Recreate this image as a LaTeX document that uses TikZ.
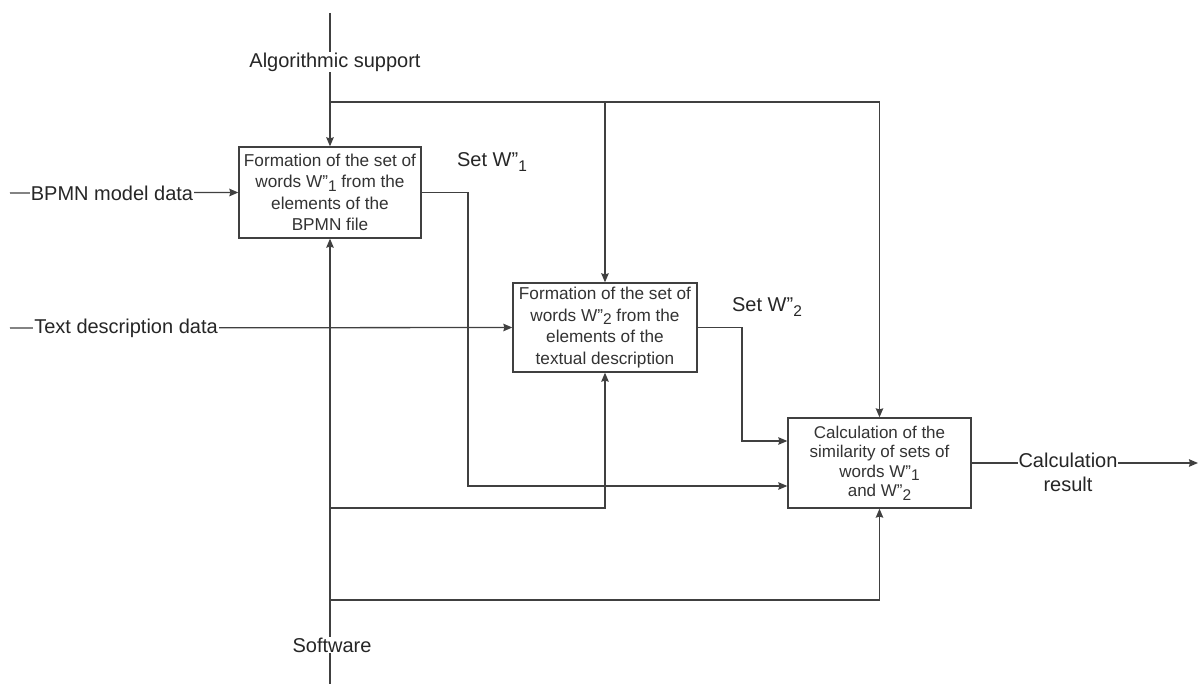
\documentclass[tikz,border=0pt]{standalone}
\usepackage{fontspec}
\setmainfont{Liberation Sans}
\usetikzlibrary{arrows.meta}
\newcommand\lowsub[1]{\raisebox{-0.4ex}{\fontsize{15.5}{15}\selectfont #1}}
\newcommand\dq{\symbol{34}}
\begin{document}
\begin{tikzpicture}[x=1pt,y=-1pt,
  line/.style={draw=black!75, line width=1.3pt},
  arr/.style={line, -{Stealth[length=9pt,width=7.5pt,inset=1pt]}},
  procbox/.style={draw=black!75, line width=1.3pt, rectangle, inner sep=0pt, fill=white,
    align=center, text=black!80, font=\fontsize{17.2}{21.5}\selectfont},
  lbl/.style={fill=white, inner sep=1pt, text=black!85, font=\fontsize{20}{23}\selectfont, align=center},
  plain/.style={inner sep=1pt, text=black!85, font=\fontsize{20}{23}\selectfont, align=center}]
\useasboundingbox (0,0) rectangle (1200,684);

% boxes
\node[procbox, minimum width=182pt, minimum height=91pt] (b1) at (330,192.5)
  {Formation of the set of\\ words W\dq\lowsub{1} from the\\ elements of the\\ BPMN file};
\node[procbox, minimum width=184pt, minimum height=89pt] (b2) at (605,327.5)
  {Formation of the set of\\ words W\dq\lowsub{2} from the\\ elements of the\\ textual description};
\node[procbox, minimum width=183pt, minimum height=90pt, font=\fontsize{17}{19.5}\selectfont] (b3) at (879.5,463)
  {Calculation of the\\ similarity of sets of\\ words W\dq\lowsub{1}\\ and W\dq\lowsub{2}};

% coordinates
\coordinate (atop) at (330,13);
\coordinate (aj) at (330,102);
\coordinate (sbot) at (330,684);
\coordinate (sj1) at (330,508);
\coordinate (sj2) at (330,600);
\coordinate (in1) at (10,193);
\coordinate (in2) at (10,328);
\coordinate (c1a) at (468,192.5);
\coordinate (c1b) at (468,486);
\coordinate (c2a) at (742,327.5);
\coordinate (c2b) at (742,441);
\coordinate (out) at (1198,463);

% algorithmic support (control)
\draw[arr] (atop) -- (b1.north);
\draw[arr] (aj) -| (b3.north);
\draw[arr] (aj -| b2.north) -- (b2.north);

% software (mechanism)
\draw[arr] (sbot) -- (b1.south);
\draw[arr] (sj1) -| (b2.south);
\draw[arr] (sj2) -| (b3.south);

% inputs
\draw[arr] (in1) -- (b1.west);
\draw[arr] (in2) -- (b2.west);

% flows between boxes
\draw[arr] (b1.east) -- (c1a) -- (c1b) -- (c1b -| b3.west);
\draw[arr] (b2.east) -- (c2a) -- (c2b) -- (c2b -| b3.west);

% output
\draw[arr] (b3.east) -- (out);

% labels
\node[lbl] (lalg) at (335,62) {Algorithmic support};
\node[lbl] (lsoft) at (332,645) {Software};
\node[lbl] (lbpmn) at (112,193) {BPMN model data};
\node[lbl] (ltext) at (126,328) {Text description data};
\node[plain] (lset1) at (492,162) {Set W\dq\lowsub{1}};
\node[plain] (lset2) at (767,307) {Set W\dq\lowsub{2}};
\node[lbl, font=\fontsize{20}{24}\selectfont] (lres) at (1068,472) {Calculation\\ result};
\end{tikzpicture}
\end{document}
